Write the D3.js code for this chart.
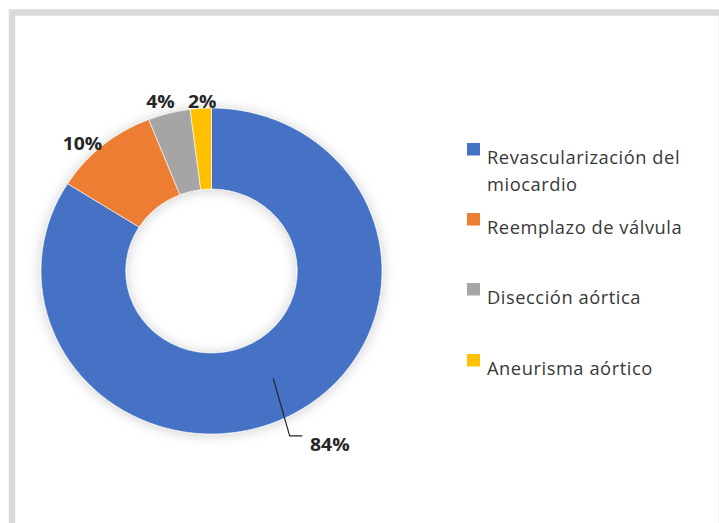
<!DOCTYPE html>
<html>
<head>
<meta charset="utf-8">
<script src="https://cdn.jsdelivr.net/npm/d3@7"></script>
<style>
  html, body { margin: 0; padding: 0; background: #fff; }
  svg { display: block; }
</style>
</head>
<body>
<div id="chart"></div>
<script>
// data
const categories = ["Revascularización del miocardio", "Reemplazo de válvula", "Disección aórtica", "Aneurisma aórtico"];
const legendLines = [["Revascularización del", "miocardio"], ["Reemplazo de válvula"], ["Disección aórtica"], ["Aneurisma aórtico"]];
const values = [84, 10, 4, 2];
const colours = ["#4472C4", "#ED7D31", "#A5A5A5", "#FFC000"];

const width = 719;
const height = 523;

// donut geometry (the source picture is a bit stretched horizontally)
const cx = 211.5, cy = 271;
const stretchX = 1.046;
const outerR = 163;
const innerR = 82;
// label placement tweaks (radius, angle nudge in radians) like excel's "outside end"
const labelRadii = [0, 178, 177, 170];
const labelNudge = [0.077, -0.075, -0.028, 0.01];
const leaderR = 181;

const svg = d3.select("#chart").append("svg")
    .attr("width", width)
    .attr("height", height);

const defs = svg.append("defs");
const shadow = defs.append("filter")
    .attr("id", "soft-shadow")
    .attr("x", "-20%").attr("y", "-20%")
    .attr("width", "140%").attr("height", "140%");
shadow.append("feDropShadow")
    .attr("dx", 0).attr("dy", 1)
    .attr("stdDeviation", 6)
    .attr("flood-color", "#000")
    .attr("flood-opacity", 0.2);

// frame
svg.append("rect")
    .attr("x", 12).attr("y", 12.5)
    .attr("width", 710).attr("height", 600)
    .attr("fill", "#fff")
    .attr("stroke", "#d9d9db")
    .attr("stroke-width", 6.5);

const pie = d3.pie().sort(null).value(d => d);
const arcs = pie(values);

const arc = d3.arc().innerRadius(innerR).outerRadius(outerR);

function polar(r, a) {
    return [r * Math.sin(a), -r * Math.cos(a)];
}
const midAngle = d => (d.startAngle + d.endAngle) / 2;

const g = svg.append("g")
    .attr("transform", `translate(${cx},${cy}) scale(${stretchX},1)`);

g.append("g")
    .attr("class", "slices")
    .attr("filter", "url(#soft-shadow)")
    .selectAll("path")
    .data(arcs)
    .enter()
    .append("path")
        .attr("d", arc)
        .attr("fill", (d, i) => colours[i])
        .attr("stroke", "#fff")
        .attr("stroke-width", 0.6);

// labels
const fmt = d => `${d.data}%`;
const labelFont = "'Open Sans', 'DejaVu Sans', sans-serif";

arcs.forEach((d, i) => {
    if (i === 0) {
        // big slice: leader line from centroid out to bottom right
        const c = arc.centroid(d);
        const e = polar(leaderR, midAngle(d) + labelNudge[i]);
        g.append("polyline")
            .attr("points", [c, e, [e[0] + 12, e[1]]].map(p => p.join(",")).join(" "))
            .attr("fill", "none")
            .attr("stroke", "#222")
            .attr("stroke-width", 1.1);
        g.append("text")
            .attr("x", e[0] + 19.5)
            .attr("y", e[1] + 8)
            .attr("dominant-baseline", "central")
            .attr("font-family", labelFont)
            .attr("font-weight", "bold")
            .attr("font-size", 18.5)
            .attr("fill", "#262626")
            .text(fmt(d));
    } else {
        const p = polar(labelRadii[i], midAngle(d) + labelNudge[i]);
        g.append("text")
            .attr("x", p[0])
            .attr("y", p[1])
            .attr("text-anchor", "middle")
            .attr("dominant-baseline", "central")
            .attr("font-family", labelFont)
            .attr("font-weight", "bold")
            .attr("font-size", 18.5)
            .attr("fill", "#262626")
            .text(fmt(d));
    }
});

// legend
const legendY = [164, 234, 304, 375];
const legend = svg.append("g").attr("class", "legend");
categories.forEach((name, i) => {
    const item = legend.append("g").attr("transform", `translate(467,${legendY[i]})`);
    item.append("rect")
        .attr("x", 0).attr("y", -21)
        .attr("width", 13).attr("height", 12.5)
        .attr("fill", colours[i]);
    const t = item.append("text")
        .attr("font-family", "'Open Sans', 'DejaVu Sans', sans-serif")
        .attr("font-size", 18.3)
        .attr("letter-spacing", 0.55)
        .attr("fill", "#383838");
    legendLines[i].forEach((line, j) => {
        t.append("tspan")
            .attr("x", 20)
            .attr("y", j * 27)
            .text(line);
    });
});
</script>
</body>
</html>
